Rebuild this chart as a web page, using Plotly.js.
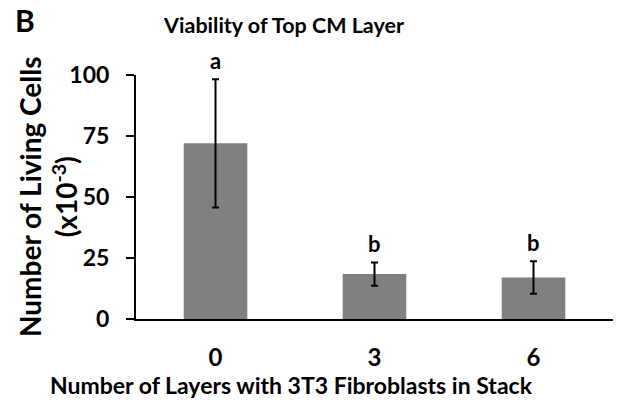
<!DOCTYPE html>
<html>
<head>
<meta charset="utf-8">
<script src="https://cdn.plot.ly/plotly-3.0.1.min.js"></script>
<style>html,body{margin:0;padding:0;background:#fff;}#chart{width:634px;height:408px;}</style>
</head>
<body>
<div id="chart"></div>
<script>
const categories = ["0", "3", "6"];
const livingCells = [72, 18.4, 17];
const errors = [26.3, 4.8, 6.7];
const letters = ["a", "b", "b"];
const yTicks = [0, 25, 50, 75, 100];

const FONT = "Lato, 'Open Sans', sans-serif";

const trace = {
  type: "bar",
  x: categories,
  y: livingCells,
  width: 0.4,
  marker: {color: "#808080", line: {width: 0}},
  error_y: {type: "data", array: errors, visible: true, color: "#000", thickness: 2, width: 3.5},
  hoverinfo: "none"
};

const annotations = letters.map((t, i) => ({
  x: i, y: livingCells[i] + errors[i], xref: "x", yref: "y",
  text: "<b>" + t + "</b>", showarrow: false, yanchor: "bottom", yshift: 3,
  font: {family: FONT, size: 22, color: "#000"}
}));
annotations.push({
  xref: "paper", yref: "paper", x: -0.258, y: 1.225, xanchor: "left", yanchor: "middle",
  text: "<b>B</b>", showarrow: false, font: {family: FONT, size: 30, color: "#000"}
});
annotations.push({
  xref: "paper", yref: "paper", x: 0.325, y: -0.27, xanchor: "center", yanchor: "middle",
  text: "<b>Number of Layers with 3T3 Fibroblasts in Stack</b>", showarrow: false,
  font: {family: FONT, size: 23, color: "#000"}
});
annotations.push({
  xref: "paper", yref: "paper", x: -0.1845, y: 0.5, xanchor: "center", yanchor: "middle",
  textangle: -90,
  text: "<b>Number of Living Cells<br>(x10<sup>-3</sup>)</b>", showarrow: false,
  font: {family: FONT, size: 28, color: "#000"}
});

const layout = {
  width: 634, height: 408,
  margin: {l: 136, r: 21, t: 75, b: 89},
  paper_bgcolor: "#fff", plot_bgcolor: "#fff",
  showlegend: false,
  title: {text: "<b>Viability of Top CM Layer</b>", x: 0.448, xanchor: "center", y: 0.937, yanchor: "middle",
    font: {family: FONT, size: 21.5, color: "#000"}},
  xaxis: {
    type: "category", range: [-0.5, 2.5],
    tickvals: categories, ticktext: categories.map(c => "<b>" + c + "</b>"),
    showline: true, linecolor: "#000", linewidth: 2,
    ticks: "", showgrid: false, zeroline: false,
    tickfont: {family: FONT, size: 24, color: "#000"},
    ticklabelstandoff: 16
  },
  yaxis: {
    range: [0, 100], tickvals: yTicks, ticktext: yTicks.map(v => "<b>" + v + "</b>"),
    showline: true, linecolor: "#000", linewidth: 2,
    ticks: "outside", ticklen: 8, tickwidth: 2, tickcolor: "#000",
    showgrid: false, zeroline: false,
    tickfont: {family: FONT, size: 23, color: "#000"},
    ticklabelstandoff: 12
  },
  annotations: annotations
};

Plotly.newPlot("chart", [trace], layout, {displayModeBar: false, staticPlot: true});
</script>
</body>
</html>
